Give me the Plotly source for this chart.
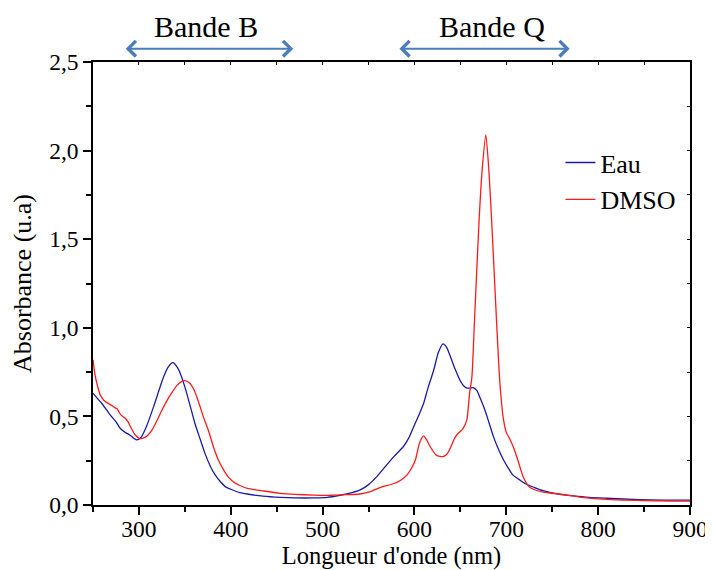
import plotly.graph_objects as go

# Eau (water) spectrum
wl_eau = [250, 255, 260, 265, 270, 275, 280, 285, 290, 297, 302, 308, 316, 322, 327, 332, 337,
          342, 346, 351, 356, 361, 367, 372, 378, 383, 389, 395, 400, 410, 418, 435, 454, 470,
          490, 505, 519, 532, 541, 550, 559, 568, 577, 588, 594, 599, 605, 610, 615, 621, 626,
          631, 635, 639, 644, 650, 654, 657, 661, 664, 668, 671, 675, 679, 686, 691, 697, 702,
          707, 715, 722, 730, 740, 758, 773, 790, 809, 845, 870, 900]
abs_eau = [0.63, 0.60, 0.57, 0.535, 0.50, 0.47, 0.43, 0.41, 0.395, 0.368, 0.38, 0.44, 0.555,
           0.65, 0.725, 0.78, 0.803, 0.775, 0.73, 0.65, 0.555, 0.46, 0.367, 0.29, 0.216, 0.17,
           0.13, 0.10, 0.089, 0.07, 0.062, 0.05, 0.043, 0.04, 0.04, 0.043, 0.055, 0.07, 0.085,
           0.115, 0.16, 0.215, 0.27, 0.33, 0.38, 0.44, 0.51, 0.574, 0.665, 0.762, 0.86, 0.909,
           0.89, 0.84, 0.77, 0.70, 0.67, 0.66, 0.66, 0.662, 0.645, 0.61, 0.56, 0.50, 0.386,
           0.32, 0.254, 0.21, 0.17, 0.14, 0.117, 0.10, 0.081, 0.06, 0.051, 0.043, 0.038, 0.03,
           0.028, 0.027]

# DMSO spectrum
wl_dmso = [250, 252, 255, 258, 262, 266, 271, 274, 276, 280, 285, 288, 291, 296, 301, 306, 310,
           315, 320, 325, 331, 336, 341, 346, 350, 355, 360, 365, 370, 376, 381, 386, 392, 397,
           403, 410, 418, 436, 454, 470, 490, 510, 526, 541, 552, 563, 577, 585, 592, 597, 601,
           604, 606, 610, 613, 617, 624, 631, 635, 639, 643, 646, 653, 657, 660, 662.5, 665.4,
           670.4, 673.7, 677.7, 681, 684, 689.3, 693, 697, 700, 704, 707.4, 712.8, 718.3, 725.5,
           740, 758, 780, 800, 850, 900]
abs_dmso = [0.82, 0.74, 0.67, 0.62, 0.59, 0.575, 0.56, 0.548, 0.545, 0.51, 0.49, 0.47, 0.44,
            0.395, 0.375, 0.38, 0.395, 0.43, 0.48, 0.535, 0.593, 0.635, 0.672, 0.695, 0.702,
            0.69, 0.65, 0.58, 0.50, 0.415, 0.33, 0.26, 0.20, 0.16, 0.13, 0.11, 0.094, 0.079,
            0.066, 0.06, 0.056, 0.055, 0.058, 0.062, 0.075, 0.10, 0.12, 0.14, 0.17, 0.21, 0.254,
            0.32, 0.357, 0.39, 0.37, 0.33, 0.28, 0.273, 0.285, 0.32, 0.37, 0.395, 0.433, 0.48,
            0.63, 0.72, 1.045, 1.61, 1.89, 2.089, 1.89, 1.61, 1.045, 0.69, 0.48, 0.41, 0.37,
            0.33, 0.25, 0.16, 0.10, 0.072, 0.062, 0.045, 0.035, 0.025, 0.022]

series_names = ["Eau", "DMSO"]
band_labels = ["Bande B", "Bande Q"]
band_ranges = [(284, 468), (582, 769)]
band_centers = [373, 684]

FONT = "Liberation Serif, Times New Roman, serif"
ARROW_COLOR = "#4a7ebb"

fig = go.Figure()
fig.add_trace(go.Scatter(x=wl_eau, y=abs_eau, mode="lines", name=series_names[0],
                         line=dict(color="#1a1aa6", width=1.3, shape="spline", smoothing=0.6)))
fig.add_trace(go.Scatter(x=wl_dmso, y=abs_dmso, mode="lines", name=series_names[1],
                         line=dict(color="#ff1a1a", width=1.3, shape="spline", smoothing=0.6)))
# empty helper trace for the mirrored (inside-tick) axes
fig.add_trace(go.Scatter(x=[None], y=[None], xaxis="x2", yaxis="y2", showlegend=False,
                         hoverinfo="skip", mode="lines"))

for lab, (a, b), c in zip(band_labels, band_ranges, band_centers):
    fig.add_annotation(x=b, y=1.03, ax=a, ay=0, xref="x", yref="paper", axref="x", ayref="pixel",
                       text="", showarrow=True, arrowhead=4, arrowside="end+start",
                       arrowsize=1.5, arrowwidth=2, arrowcolor=ARROW_COLOR)
    fig.add_annotation(x=c, y=1.0, xref="x", yref="paper", yanchor="bottom", yshift=17,
                       text=lab, showarrow=False, font=dict(family=FONT, size=30, color="black"))

axis_common = dict(showgrid=False, zeroline=False, linecolor="black", linewidth=1.5,
                   tickcolor="black", tickwidth=1.5, ticks="outside", ticklen=8, automargin=True,
                   tickfont=dict(family=FONT, size=23.5, color="black"))

fig.update_layout(
    width=705, height=562,
    margin=dict(l=84.5, r=22.5, t=54, b=65, autoexpand=False),
    paper_bgcolor="white", plot_bgcolor="white",
    separators=", ",
    font=dict(family=FONT, color="black"),
    showlegend=True,
    legend=dict(x=0.783, y=0.826, xanchor="left", yanchor="top", bgcolor="rgba(0,0,0,0)",
                font=dict(family=FONT, size=26, color="black"), tracegroupgap=0),
    xaxis=dict(range=[250, 900], dtick=100, tick0=0, mirror=True, ticklabelstandoff=-6,
               minor=dict(dtick=50, tick0=0, ticks="outside", ticklen=5, tickcolor="black", tickwidth=1.5),
               title=dict(text="Longueur d'onde (nm)", font=dict(family=FONT, size=24.5, color="black"),
                          standoff=7),
               **axis_common),
    yaxis=dict(range=[0, 2.5], dtick=0.5, tick0=0, tickformat=".1f", mirror=True,
               minor=dict(dtick=0.25, tick0=0, ticks="outside", ticklen=5, tickcolor="black", tickwidth=1.5),
               title=dict(text="Absorbance (u.a)", font=dict(family=FONT, size=26, color="black"),
                          standoff=10),
               **axis_common),
    xaxis2=dict(range=[250, 900], overlaying="x", side="top", showline=False, showgrid=False,
                zeroline=False, ticks="inside", ticklen=3, tickwidth=1, tickcolor="black",
                dtick=50, tick0=0, showticklabels=False, automargin=False),
    yaxis2=dict(range=[0, 2.5], overlaying="y", side="right", showline=False, showgrid=False,
                zeroline=False, ticks="inside", ticklen=3, tickwidth=1, tickcolor="black",
                dtick=0.25, tick0=0, showticklabels=False, automargin=False),
)

fig.write_html("out.html")
